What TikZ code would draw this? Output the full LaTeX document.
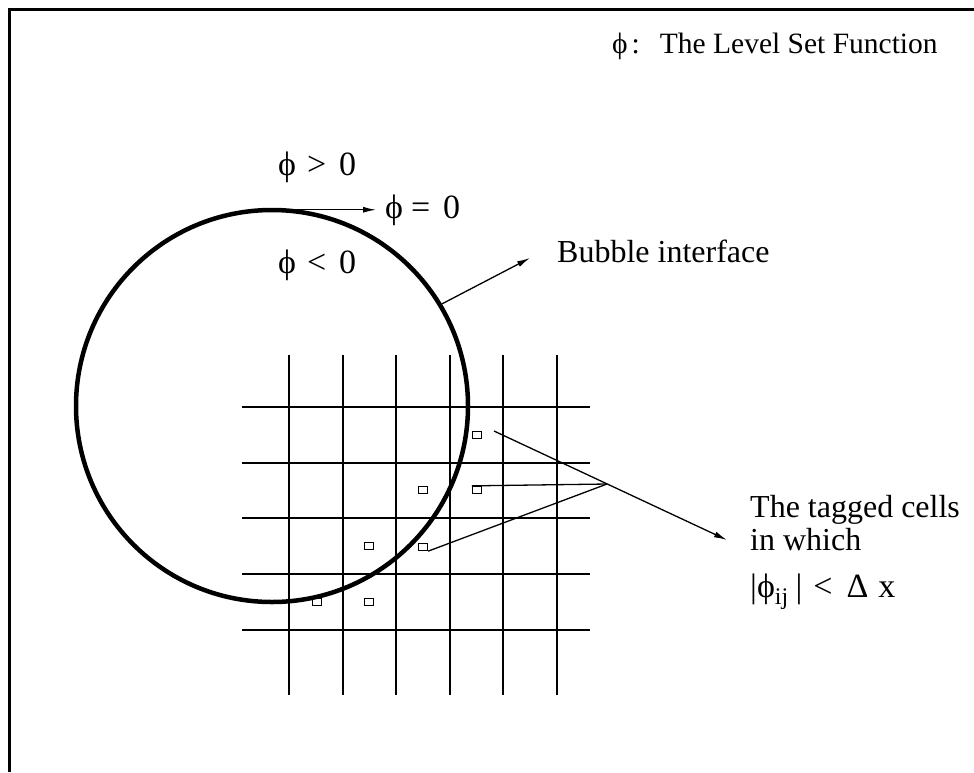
\documentclass[tikz,border=0pt]{standalone}
\usepackage{fontspec}
\setmainfont{Liberation Serif}
\usetikzlibrary{arrows.meta}

\begin{document}
\begin{tikzpicture}[
  x=1pt,
  y=-1pt,
  frame line/.style={line width=3pt},
  grid line/.style={line width=2.2pt},
  bubble line/.style={
    draw,
    circle,
    line width=4.5pt,
    minimum size=392pt,
    inner sep=0pt
  },
  tagged cell/.style={
    draw,
    line width=1.3pt,
    fill=white,
    minimum width=9pt,
    minimum height=7pt,
    inner sep=0pt
  },
  pointer/.style={line width=1.3pt},
  arrowed/.style={pointer, -{Latex[length=13pt, width=6pt]}},
  phi label/.style={font=\fontsize{34}{40}\selectfont, inner sep=0pt, anchor=base west},
  note label/.style={font=\fontsize{32}{38}\selectfont, inner sep=0pt, anchor=base west}
]
  \useasboundingbox (0,0) rectangle (974,772);
  \draw[frame line] (9,772) -- (9,9) -- (974,9);

  % mesh
  \foreach \gx in {289,343,396,450,503,557}
    \draw[grid line] (\gx,355) -- (\gx,695);
  \foreach \gy in {407,463,518,574,630}
    \draw[grid line] (242,\gy) -- (590,\gy);

  \foreach [count=\i] \cx/\cy in {477/435,423/490,477/490,423/547,369/546,369/602,317/602}
    \node[tagged cell] (cell\i) at (\cx,\cy) {};

  \node[bubble line] (bubble) at (272,406) {};

  % labels
  \node[note label, font=\fontsize{29.5}{35}\selectfont] (legend) at (612,53)
    {ϕ\hspace{4pt}:\hspace{20pt}The Level Set Function};
  \node[phi label] (phipos) at (278,175) {ϕ\hspace{11pt}>\hspace{13pt}0};
  \node[phi label] (phizero) at (385,218) {ϕ\hspace{8pt}=\hspace{13pt}0};
  \node[phi label] (phineg) at (278,273) {ϕ\hspace{11pt}<\hspace{13pt}0};
  \node[note label] (iface) at (557,262) {Bubble interface};
  \node[note label] (tagline) at (750,517) {The tagged cells};
  \node[note label] (tagwhich) at (750,550) {in which};
  \node[note label, font=\fontsize{34}{40}\selectfont] (tagcond) at (750,597)
    {|ϕ\textsubscript{ij}\hspace{7pt}|\hspace{11pt}<\hspace{14pt}Δ\hspace{10pt}x};

  % pointers
  \coordinate (ontop) at ([xshift=22pt,yshift=-2pt]bubble.north);
  \draw[arrowed, shorten >=9pt] (ontop) -- (ontop -| phizero.west);
  \coordinate (ifacetip) at (530,258);
  \draw[arrowed] (bubble.31) -- (ifacetip);

  \coordinate (leader) at (494,431);
  \coordinate (hub) at (607,484);
  \coordinate (tagtip) at (727,540);
  \draw[arrowed] (leader) -- (tagtip);
  \draw[pointer] (cell3.north west) -- (hub);
  \draw[pointer] (cell4.south east) -- (hub);
\end{tikzpicture}
\end{document}
